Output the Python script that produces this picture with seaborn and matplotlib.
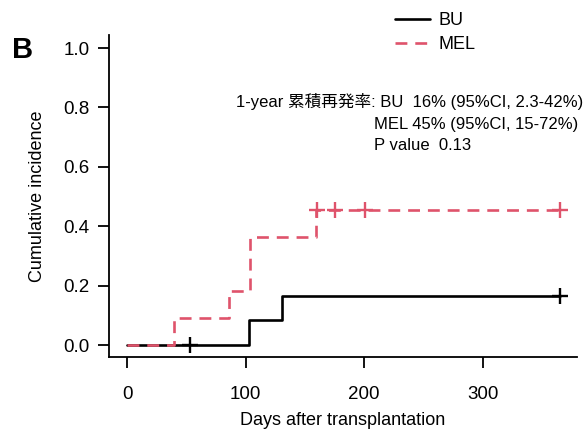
import seaborn as sns
import matplotlib.pyplot as plt
import pandas as pd

# Kaplan-Meier style cumulative incidence
bu_days = [0, 103, 131, 365]
bu_inc = [0.0, 0.083, 0.167, 0.167]
bu_cens_days = [53, 365]
bu_cens_inc = [0.0, 0.167]

mel_days = [0, 40, 86, 104, 159, 365]
mel_inc = [0.0, 0.091, 0.182, 0.364, 0.455, 0.455]
mel_cens_days = [160, 175, 201, 365]
mel_cens_inc = [0.455, 0.455, 0.455, 0.455]

groups = ['BU', 'MEL']
colors = ['black', '#DF536B']
xticks = [0, 100, 200, 300]
yticks = [0.0, 0.2, 0.4, 0.6, 0.8, 1.0]

sns.set_style('ticks')
plt.rcParams['font.family'] = ['Liberation Sans', 'Noto Sans CJK JP', 'DejaVu Sans']
plt.rcParams['text.color'] = 'black'
plt.rcParams['axes.labelcolor'] = 'black'
plt.rcParams['xtick.color'] = 'black'
plt.rcParams['ytick.color'] = 'black'
plt.rcParams['axes.edgecolor'] = 'black'

fig = plt.figure(figsize=(5.87, 4.30), dpi=100)
ax = fig.add_axes([109 / 587, 1 - 357 / 430, 468 / 587, 322 / 430])

bu = pd.DataFrame({'day': bu_days, 'inc': bu_inc})
mel = pd.DataFrame({'day': mel_days, 'inc': mel_inc})

sns.lineplot(data=bu, x='day', y='inc', drawstyle='steps-post', color=colors[0],
             linewidth=1.9, ax=ax, label=groups[0])
sns.lineplot(data=mel, x='day', y='inc', drawstyle='steps-post', color=colors[1],
             linewidth=1.9, ax=ax, label=groups[1])
ax.lines[-1].set_dashes([4.5, 3])

sns.scatterplot(x=bu_cens_days, y=bu_cens_inc, marker='+', s=120, color=colors[0],
                linewidth=1.7, ax=ax, legend=False)
sns.scatterplot(x=mel_cens_days, y=mel_cens_inc, marker='+', s=120, color=colors[1],
                linewidth=1.7, ax=ax, legend=False)

ax.set_xlim(-15.2, 379.4)
ax.set_ylim(-0.040, 1.044)
ax.set_xticks(xticks)
ax.set_yticks(yticks)
ax.set_yticklabels([f'{v:.1f}' for v in yticks])
ax.tick_params(axis='both', direction='out', length=8, width=1.3, labelsize=13.5)
ax.tick_params(axis='x', pad=13)
ax.tick_params(axis='y', pad=6)
for s in ['top', 'right']:
    ax.spines[s].set_visible(False)
for s in ['left', 'bottom']:
    ax.spines[s].set_linewidth(1.3)

ax.set_xlabel('Days after transplantation', fontsize=13)
ax.set_ylabel('Cumulative incidence', fontsize=13)
ax.xaxis.set_label_coords(0.5, -0.172)
ax.yaxis.set_label_coords(-0.135, 0.5)

ax.get_legend().remove()
h, l = ax.get_legend_handles_labels()
fig.legend(h[:2], l[:2], loc='upper left', bbox_to_anchor=(395 / 587, 1 - 12 / 430),
           frameon=False, fontsize=13, handlelength=1.95, handletextpad=0.45,
           labelspacing=0.38, borderpad=0, borderaxespad=0)

fig.text(12 / 587, 1 - 50 / 430, 'B', fontsize=21, fontweight='bold', va='center')

fig.text(583 / 587, 1 - 101 / 430, '1-year 累積再発率: BU  16% (95%CI, 2.3-42%)',
         ha='right', va='center', fontsize=12)
fig.text(374 / 587, 1 - 124 / 430, 'MEL 45% (95%CI, 15-72%)',
         ha='left', va='center', fontsize=12)
fig.text(374 / 587, 1 - 146 / 430, 'P value  0.13',
         ha='left', va='center', fontsize=12)

fig.savefig('out.png', dpi=100)
